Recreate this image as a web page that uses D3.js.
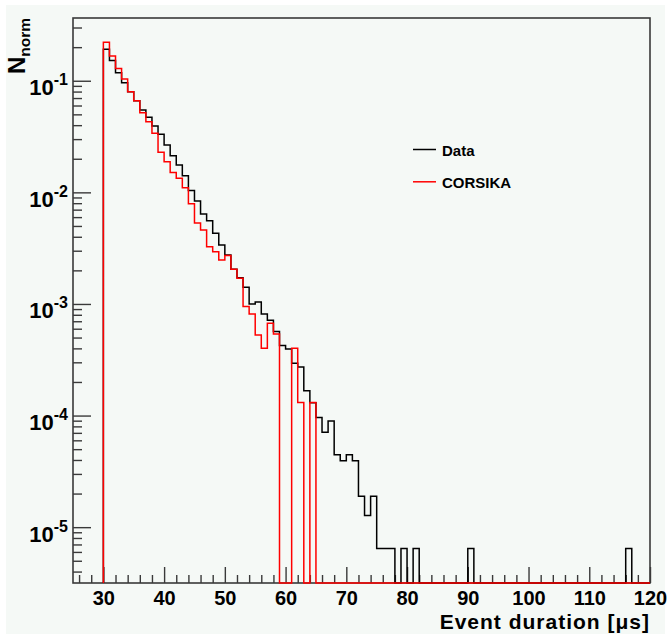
<!DOCTYPE html>
<html><head><meta charset="utf-8">
<script src="https://cdn.jsdelivr.net/npm/d3@7"></script>
<style>
body{margin:0;background:#ffffff}
svg{display:block}
text{font-family:"Liberation Sans",Arial,Helvetica,sans-serif;font-weight:bold;fill:#000}
</style>
</head><body>
<svg id="c" width="671" height="639"></svg>
<script>
// ---- data ----
const binLowEdges = [30,31,32,33,34,35,36,37,38,39,40,41,42,43,44,45,46,47,48,49,
  50,51,52,53,54,55,56,57,58,59,60,61,62,63,64,65,66,67,68,69,
  70,71,72,73,74,75,76,77,78,79,80,81,82,83,84,85,86,87,88,89,
  90,91,92,93,94,95,96,97,98,99,100,101,102,103,104,105,106,107,108,109,
  110,111,112,113,114,115,116,117,118,119];
const binWidth = 1;
const dataValues = [0.192,0.152,0.118,0.0960,0.0797,0.0663,0.0547,0.0470,0.0393,0.0331,
  0.0266,0.0213,0.0176,0.0141,0.0104,0.00838,0.00641,0.00558,0.00431,0.00338,
  0.00275,0.00205,0.00172,0.00141,0.00100,0.00104,0.000812,0.000713,0.000566,0.000424,
  0.000394,0.000294,0.000272,0.000167,0.000130,0.0000962,0.0000709,0.0000893,0.0000446,0.0000394,
  0.0000446,0.0000394,0.0000189,0.0000127,0.0000189,0.00000643,0.00000643,0.00000643,0,0.00000643,
  0,0.00000643,0,0,0,0,0,0,0,0,
  0.00000643,0,0,0,0,0,0,0,0,0,
  0,0,0,0,0,0,0,0,0,0,
  0,0,0,0,0,0,0.00000643,0,0,0];
const corsikaValues = [0.221,0.167,0.129,0.1035,0.0797,0.0663,0.0518,0.0430,0.0338,0.0229,
  0.0188,0.0151,0.0134,0.0110,0.00792,0.00532,0.00461,0.00325,0.00294,0.00248,
  0.00272,0.00205,0.00170,0.000948,0.000812,0.000528,0.000402,0.000673,0.000537,0,
  0,0.000402,0.000131,0,0.000131,0,0,0,0,0,
  0,0,0,0,0,0,0,0,0,0,
  0,0,0,0,0,0,0,0,0,0,
  0,0,0,0,0,0,0,0,0,0,
  0,0,0,0,0,0,0,0,0,0,
  0,0,0,0,0,0,0,0,0,0];
const seriesNames = ["Data","CORSIKA"];
const seriesColors = ["#000000","#ff0000"];
const xTickValues = [30,40,50,60,70,80,90,100,110,120];
const yTickExponents = [-1,-2,-3,-4,-5];
const xTitle = "Event duration [\u03bcs]";

// ---- layout ----
const L=73, T=18, R=650, B=583;
const svg = d3.select("#c");
svg.append("rect").attr("x",0).attr("y",0).attr("width",671).attr("height",639).attr("fill","#ffffff");
svg.append("rect").attr("x",6).attr("y",5).attr("width",659).attr("height",629).attr("fill","#f5f9f6");

const x = d3.scaleLinear().domain([25,120]).range([L,R]);
const y = d3.scaleLog().domain([3.16e-6,0.365]).range([B,T]);

// frame
svg.append("rect").attr("x",L).attr("y",T).attr("width",R-L).attr("height",B-T)
  .attr("fill","none").attr("stroke","#3a3a3a").attr("stroke-width",1.6);

// x axis
const xMinor = d3.range(26,120,2).filter(v=>xTickValues.indexOf(v)<0);
const gxm = svg.append("g").attr("transform",`translate(0,${B})`)
  .call(d3.axisBottom(x).tickValues(xMinor).tickSize(-8).tickFormat(""));
const gx = svg.append("g").attr("transform",`translate(0,${B})`)
  .call(d3.axisBottom(x).tickValues(xTickValues).tickSize(-16).tickPadding(8));
[gx,gxm].forEach(g=>{g.select(".domain").remove();
  g.selectAll("line").attr("stroke","#3a3a3a").attr("stroke-width",1.4);});
gx.selectAll("text").attr("font-size",20).attr("font-family","'Liberation Sans',Arial,sans-serif")
  .attr("font-weight","bold").attr("fill","#000");

// y axis
const yMajor = yTickExponents.map(e=>Math.pow(10,e));
const yMinor = [];
[-6,-5,-4,-3,-2,-1].forEach(e=>{for(let m=2;m<=9;m++){const v=m*Math.pow(10,e); if(v>=3.16e-6 && v<=0.365) yMinor.push(v);}});
const gym = svg.append("g").attr("transform",`translate(${L},0)`)
  .call(d3.axisLeft(y).tickValues(yMinor).tickSize(-9).tickFormat(""));
const gy = svg.append("g").attr("transform",`translate(${L},0)`)
  .call(d3.axisLeft(y).tickValues(yMajor).tickSize(-18).tickFormat(""));
[gy,gym].forEach(g=>{g.select(".domain").remove();
  g.selectAll("line").attr("stroke","#3a3a3a").attr("stroke-width",1.4);});
yTickExponents.forEach(e=>{
  const t = svg.append("text").attr("x",68).attr("y",y(Math.pow(10,e))+14.5)
    .attr("text-anchor","end").attr("font-size",22);
  t.append("tspan").text("10");
  t.append("tspan").attr("font-size",16).attr("dy",-10).text(String(e));
});

// histograms
function histPoints(vals){
  const pts=[[x(binLowEdges[0]),B]];
  vals.forEach((v,i)=>{
    const yy = v>0 ? y(v) : B;
    pts.push([x(binLowEdges[i]),yy],[x(binLowEdges[i]+binWidth),yy]);
  });
  pts.push([x(binLowEdges[binLowEdges.length-1]+binWidth),B]);
  return pts;
}
const line = d3.line();
[dataValues,corsikaValues].forEach((vals,k)=>{
  svg.append("path").attr("d",line(histPoints(vals))).attr("fill","none")
    .attr("stroke",seriesColors[k]).attr("stroke-width",1.5).attr("stroke-linejoin","miter");
});

// legend
seriesNames.forEach((n,i)=>{
  const yy = 149.5 + i*32.3;
  svg.append("line").attr("x1",413).attr("x2",436).attr("y1",yy).attr("y2",yy)
    .attr("stroke",seriesColors[i]).attr("stroke-width",1.5);
  svg.append("text").attr("x",442).attr("y",yy+6).attr("font-size",15).text(n);
});

// axis titles
svg.append("text").attr("x",650).attr("y",629).attr("text-anchor","end")
  .attr("font-size",21).attr("letter-spacing",1).text(xTitle);
const yt = svg.append("text").attr("transform",`translate(25,${T}) rotate(-90)`)
  .attr("text-anchor","end").attr("font-size",24);
yt.append("tspan").text("N");
yt.append("tspan").attr("font-size",15.5).attr("dy",5).text("norm");
</script>
</body></html>
